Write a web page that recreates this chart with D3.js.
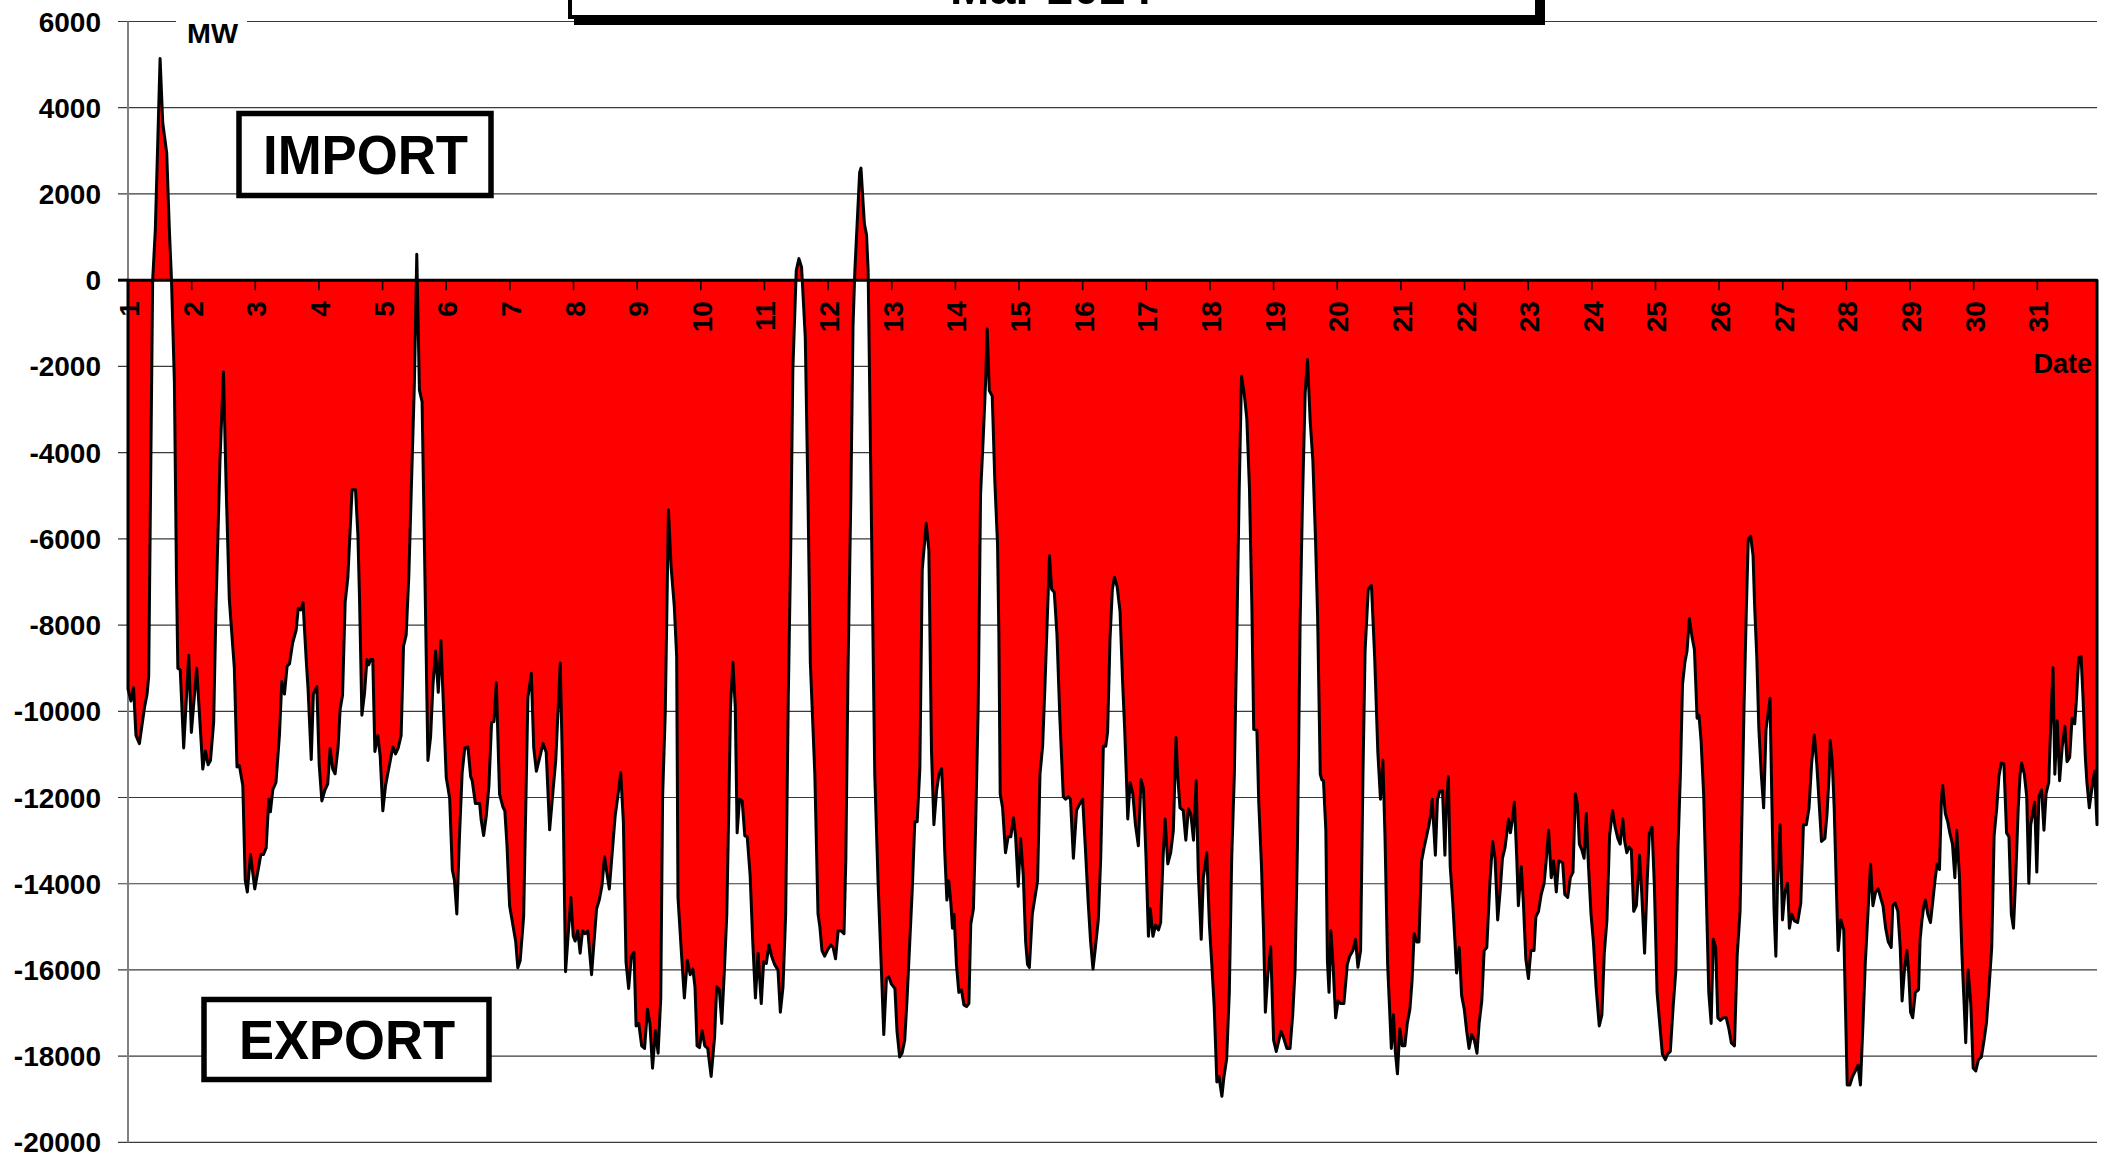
<!DOCTYPE html>
<html>
<head>
<meta charset="utf-8">
<script src="https://cdn.jsdelivr.net/npm/d3@7"></script>
<style>
  html, body { margin: 0; padding: 0; background: #fff; }
  svg { display: block; font-family: "Liberation Sans", Arial, sans-serif; font-weight: bold; }
</style>
</head>
<body>
<svg id="chart" width="2108" height="1160"></svg>
<script>
// Labels
const monthTitle = "Mar 2024";
const unitLabel = "MW";
const dateLabel = "Date";
const importLabel = "IMPORT";
const exportLabel = "EXPORT";

// Day numbers on the category axis and value ticks (MW)
const days = d3.range(1, 32);
const yTicks = d3.range(-20000, 6001, 2000);

// Net cross-border exchange, [hour from 1 Mar 00:00, MW]; positive = import, negative = export
const netExchange = [
  [0,-9480],[1.1,-9760],[2.1,-9450],[3,-10560],[4.3,-10750],[6.2,-9920],[7.2,-9600],[7.8,-9190],[9.3,0],[10.3,1170],[12.1,5140],[13.1,3650],[14.6,2950],[15.6,1170],[16.4,0],[17.5,-2380],[18.3,-7000],[18.8,-9000],[19.7,-9040],[21,-10850],[22.9,-8700],[23.9,-10490],
  [25.9,-9000],[28.2,-11340],[29.2,-10920],[30.2,-11240],[31.1,-11140],[32.3,-10260],[33.2,-7530],[34.7,-4150],[36,-2130],[37,-4770],[38.2,-7400],[40.1,-9000],[41.1,-11290],[42,-11260],[43.3,-11730],[44.2,-13920],[45,-14190],[46.2,-13320],[47.8,-14120],
  [50.1,-13320],[51.1,-13320],[52.1,-13170],[53.1,-12040],[53.7,-12330],[54.6,-11820],[55.8,-11650],[57.1,-10560],[58,-9310],[59,-9600],[60,-8950],[60.9,-8900],[62.1,-8410],[63.4,-8120],[64.2,-7610],[65.2,-7650],[66,-7480],[67.2,-8800],[67.9,-9480],[69.1,-11120],[69.9,-9600],[71.2,-9430],
  [72.1,-11240],[73.1,-12080],[74.3,-11820],[75.3,-11690],[76.2,-10870],[77.2,-11340],[78.1,-11450],[79.2,-10850],[80,-9950],[80.9,-9630],[81.9,-7460],[82.9,-6900],[84.5,-4860],[85.8,-4860],[86.7,-5920],[87.3,-7360],[88.2,-10090],[89.2,-9580],[90.1,-8800],[90.8,-8920],[91.4,-8800],[92.3,-8800],[93.1,-10930],[94.2,-10560],[95.1,-11040],
  [96.1,-12310],[97.1,-11730],[98,-11430],[98.6,-11240],[99.9,-10830],[100.9,-10990],[101.9,-10850],[103,-10560],[103.9,-8490],[104.9,-8230],[105.9,-6850],[108,-2380],[108.9,600],[109.9,-2550],[110.9,-2820],[113.1,-11140],[114.1,-10600],[115,-9390],[116,-8600],[117,-9560],[118,-8360],[118.7,-9480],
  [120,-11530],[121.3,-12020],[122.3,-13680],[123.1,-13920],[124,-14700],[125,-12900],[126,-11430],[127,-10850],[128.2,-10830],[129.2,-11510],[129.8,-11610],[131,-12140],[132.6,-12140],[133.2,-12530],[134.1,-12880],[135.1,-12430],[136.1,-11730],[137.1,-10260],[138,-10240],[138.9,-9340],[140.1,-11920],[141.4,-12220],[142.1,-12310],[142.9,-13090],
  [143.9,-14510],[146.2,-15340],[147,-15950],[147.9,-15780],[149.2,-14750],[150.8,-9680],[152.1,-9120],[153,-10850],[154,-11390],[155,-11140],[156.5,-10750],[157.7,-10950],[159,-12750],[160.3,-11820],[161.3,-11140],[163,-8880],[164,-11730],[165,-16040],
  [167,-14320],[167.9,-15220],[168.6,-15330],[169.6,-15090],[170.5,-15610],[171.4,-15090],[172.4,-15160],[173.4,-15090],[174.8,-16110],[176.7,-14580],[177.7,-14380],[178.7,-14060],[179.7,-13380],[181.5,-14120],[183.7,-12430],[184.7,-11980],[185.8,-11420],[186.8,-12560],[187.8,-15810],[188.8,-16430],[189.8,-15680],[190.8,-15590],
  [191.6,-17300],[192.6,-17240],[193.7,-17760],[194.8,-17820],[195.9,-16910],[196.8,-17240],[197.8,-18280],[198.9,-17410],[199.9,-17930],[200.9,-16650],[201.6,-11980],[202.6,-10030],[203.8,-5330],[204.8,-6650],[206,-7560],[206.9,-8730],[207.4,-14320],[208.7,-15610],[209.8,-16650],[210.9,-15770],[212,-16110],[213,-15980],[213.8,-16390],
  [214.6,-17760],[215.5,-17800],[216.5,-17410],[217.5,-17760],[218.6,-17820],[219.9,-18470],[221.2,-17560],[222,-16390],[223,-16460],[223.9,-17240],[224.9,-16000],[225.8,-14710],[226.6,-12110],[227.2,-9900],[228.1,-8860],[229,-9900],[229.7,-12820],[230.6,-12040],[231.6,-12080],[232.6,-12890],[233.5,-12910],[234.6,-13800],[235.6,-15350],[236.6,-16650],[237.6,-15610],
  [238.8,-16780],[239.7,-15810],[240.7,-15850],[241.7,-15420],[242.7,-15680],[243.8,-15870],[245.1,-16000],[246,-16980],[247,-16390],[248,-14710],[249,-9640],[249.9,-6260],[250.7,-2100],[252,230],[253,500],[254,300],[255.4,-1330],[256.4,-4960],[257.3,-8860],[259,-11460],[260.2,-14700],[260.9,-15000],
  [261.7,-15550],[262.7,-15680],[263.7,-15550],[265,-15420],[265.9,-15480],[266.8,-15740],[267.8,-15090],[268.8,-15090],[270,-15160],[270.7,-13410],[271.5,-9120],[272.6,-4960],[273.4,-1070],[274.1,230],[275.9,2500],[276.4,2600],[277.7,1300],[278.5,1050],[279.1,230],[281.6,-11460],[282.9,-14060],[284.1,-16000],[285,-17500],
  [286,-16200],[286.9,-16160],[287.9,-16330],[289.2,-16430],[290,-17430],[291,-18020],[291.9,-17930],[292.9,-17630],[293.8,-16650],[294.8,-15350],[295.7,-14190],[296.7,-12560],[297.6,-12560],[298.6,-11330],[299.5,-6720],[301,-5640],[302,-6260],[303,-10940],[303.9,-12630],[304.9,-11850],[305.8,-11460],[306.8,-11330],[307.4,-12110],[308,-13280],[308.8,-14380],[309.5,-13930],[310.3,-14450],[310.9,-15030],[311.5,-14710],
  [312.4,-15870],[313.3,-16520],[314.3,-16460],[315.2,-16810],[316.2,-16850],[317.1,-16780],[317.8,-14940],[318.8,-14580],[319.6,-12760],[320.6,-9900],[321.5,-4960],[322.5,-3660],[323.4,-2360],[324,-1130],[324.8,-2560],[325.9,-2690],[326.9,-4700],[327.9,-6130],[328.4,-8210],[328.9,-11910],[329.8,-12240],[330.9,-13280],[331.9,-12910],[332.9,-12910],[333.9,-12470],[334.7,-12890],[335.7,-14060],
  [336.6,-12950],[337.6,-13800],[338.5,-15350],[339.2,-15870],[339.9,-15940],[341,-14710],[342,-14320],[343,-13930],[343.9,-11460],[344.9,-10810],[345.8,-9380],[346.6,-7950],[347.5,-6390],[348.3,-7170],[349.3,-7240],[350.3,-8210],[351.4,-10160],[352.7,-11980],[353.6,-12040],[354.6,-11980],[355.4,-12040],[356.5,-13410],[357.7,-12300],[358.7,-12170],
  [360,-12040],[361,-13150],[362.1,-14450],[363,-15350],[363.9,-15980],[364.8,-15480],[365.9,-14840],[366.8,-13410],[367.8,-10810],[368.7,-10810],[369.4,-10480],[370.3,-8340],[371.2,-7170],[372,-6890],[373,-7110],[374.1,-7690],[375.1,-9380],[375.8,-10350],[376.6,-11720],[377,-12500],[377.9,-11650],[378.9,-11910],[379.9,-12630],[381,-13120],[382,-11590],[382.9,-11780],
  [383.9,-13410],[384.8,-15220],[385.5,-14580],[386.5,-15220],[387.5,-14960],[388.6,-15070],[389.4,-14900],[390.3,-13410],[391.1,-12500],[392.1,-13540],[393.2,-13280],[394.2,-12760],[395.2,-10610],[395.8,-11460],[396.7,-12240],[397.9,-12300],[398.9,-12990],[399.9,-12260],[400.8,-12390],[401.8,-12990],[402.8,-11610],[403.6,-13730],[404.7,-15290],[405.5,-13860],[406.8,-13280],[407.8,-14960],
  [408.7,-15870],[409.6,-16850],[410.6,-18600],[411.4,-18470],[412.5,-18930],[413.3,-18470],[414.3,-18060],[415.3,-16520],[416.2,-13410],[417.2,-11460],[418.1,-8340],[419,-4960],[419.9,-2230],[420.9,-2620],[421.9,-3210],[422.9,-4830],[423.8,-7560],[424.5,-10420],[425.7,-10440],[426.4,-12110],[427.4,-13540],[428.2,-15090],[428.9,-16980],[429.8,-16130],[430.9,-15460],
  [432,-17630],[433,-17890],[434,-17630],[434.8,-17430],[435.7,-17560],[437,-17820],[438.2,-17820],[439.2,-17040],[440.1,-16000],[441,-13080],[442,-7950],[442.9,-5090],[443.9,-2620],[444.8,-1840],[445.8,-3270],[446.8,-4180],[447.8,-6000],[448.6,-7820],[449.6,-11460],[450.2,-11590],[450.8,-11610],[451.7,-12760],[452.3,-15800],[452.9,-16520],[453.6,-15090],[454.4,-15870],[455.4,-17110],
  [456.3,-16720],[457.3,-16780],[458.5,-16780],[459.8,-15870],[460.7,-15680],[461.9,-15550],[462.9,-15290],[463.8,-15940],[464.8,-15550],[465.7,-11460],[466.5,-8600],[467.7,-7170],[468.9,-7080],[470.1,-8730],[471.3,-10940],[472.3,-12040],[473.2,-11130],[474,-12890],[475,-15870],[476.4,-17820],[477.2,-17040],[477.9,-17890],[478.7,-18410],[479.6,-17370],
  [480.5,-17760],[481.5,-17760],[482.4,-17240],[483.4,-16910],[484.2,-16260],[485,-15160],[486,-15350],[486.8,-15350],[487.8,-13470],[488.8,-13150],[489.7,-12890],[490.6,-12630],[491.3,-12370],[491.8,-12040],[493,-13340],[493.8,-12040],[494.7,-11850],[495.7,-11850],[496.6,-13340],[497.1,-12240],[497.9,-11520],[498.6,-13600],[499.5,-14380],[500.4,-15350],[501,-16070],[502,-15480],[502.9,-16590],
  [503.9,-16910],[504.8,-17410],[505.7,-17820],[506.7,-17500],[507.7,-17630],[508.7,-17930],[509.5,-17240],[510.5,-16720],[511.4,-15550],[512.4,-15480],[513.6,-13930],[514.6,-13020],[515.5,-13410],[516.5,-14840],[517.4,-14190],[518.3,-13410],[519.3,-13150],[520.6,-12500],[521.3,-12820],[522.1,-12500],[522.8,-12110],[523.7,-13410],[524.3,-14510],[525.4,-13600],[526.2,-14450],[527.1,-15740],
  [528.1,-16200],[529,-15550],[530.2,-15550],[530.9,-14770],[531.9,-14640],[532.9,-14250],[534,-13990],[534.7,-13540],[535.7,-12760],[536.7,-13860],[537.6,-13470],[538.6,-14190],[539.5,-13470],[541,-13510],[541.8,-14250],[542.9,-14320],[543.9,-13860],[544.9,-13730],[545.8,-11910],[546.6,-12170],[547.3,-13080],[548.2,-13210],[549.1,-13410],[549.9,-12370],[550.7,-13540],[551.7,-14710],
  [552.6,-15350],[553.6,-16390],[554.8,-17300],[555.8,-17040],[556.7,-15610],[557.7,-14840],[558.7,-12890],[559.8,-12300],[560.8,-12690],[561.8,-12950],[562.7,-13080],[563.7,-12500],[564.4,-13020],[565.2,-13280],[566.1,-13150],[566.9,-13210],[567.8,-14640],[568.8,-14510],[570,-13340],[570.8,-14190],[571.9,-15610],[572.8,-14060],[573.7,-12820],[574.7,-12690],[575.6,-14060],
  [576.6,-16520],[577.6,-17240],[578.6,-17950],[579.7,-18080],[580.6,-17950],[581.6,-17890],[582.6,-16910],[583.7,-16000],[584.5,-13150],[585.4,-11460],[586.2,-9380],[587.1,-8860],[587.9,-8600],[588.8,-7850],[589.8,-8280],[590.7,-8570],[591.7,-10160],[592.4,-10090],[593.2,-10680],[594.2,-11980],[595.2,-14320],[596.1,-16520],[597,-17240],[597.8,-15290],[598.7,-15480],[599.5,-17110],
  [600.5,-17170],[601.6,-17110],[602.7,-17110],[603.7,-17370],[604.6,-17690],[605.8,-17760],[606.8,-15680],[607.9,-14640],[608.7,-12110],[609.4,-9900],[610.3,-7560],[611,-6000],[611.9,-5940],[612.8,-6390],[613.4,-7560],[614.2,-8730],[615,-10420],[615.9,-11460],[616.8,-12240],[617.7,-10420],[618.5,-10030],[619.2,-9700],[619.9,-12110],[620.7,-14580],[621.4,-15680],[622,-14060],[623,-12630],
  [623.9,-14840],[624.8,-14190],[625.8,-13990],[626.5,-15030],[627.4,-14710],[628.4,-14860],[629.6,-14900],[630.8,-14450],[631.8,-12630],[632.9,-12630],[633.9,-12240],[634.9,-11200],[635.9,-10550],[636.8,-11200],[637.7,-12110],[638.6,-13020],[639.9,-12950],[640.7,-12370],[641.5,-11460],[641.9,-10680],[642.7,-11200],[643.4,-12240],[644.2,-14060],[644.9,-15550],[645.9,-14840],[647,-15070],
  [648.3,-18670],[649.3,-18670],[650.3,-18470],[651.4,-18340],[652.4,-18210],[653.3,-18670],[654.3,-17170],[655.1,-15870],[656.1,-14710],[657.1,-13540],[658,-14510],[659,-14190],[660,-14120],[660.9,-14320],[661.8,-14510],[662.8,-15030],[663.8,-15350],[664.9,-15480],[665.5,-14510],[666.4,-14450],[667.4,-14640],[668.3,-15480],[669,-16720],[669.9,-16000],[670.8,-15550],[671.5,-16070],
  [672.2,-16980],[673,-17110],[674,-16520],[675.2,-16460],[675.8,-15290],[676.5,-14840],[677.2,-14510],[677.8,-14380],[678.7,-14710],[679.7,-14900],[680.5,-14450],[681.4,-13930],[682.2,-13540],[683.1,-13670],[683.8,-12110],[684.3,-11720],[685.3,-12370],[686.2,-12560],[687,-12820],[688,-13080],[688.9,-13860],[689.6,-12760],[690.6,-13800],[691.6,-15680],[692.3,-16650],[693,-17690],[693.9,-16000],[694.9,-16780],
  [695.8,-18280],[696.8,-18340],[697.8,-18080],[698.9,-18020],[699.9,-17630],[700.8,-17240],[701.8,-16390],[702.8,-15480],[703.7,-12890],[704.7,-12240],[705.5,-11520],[706.4,-11200],[707.4,-11220],[708.4,-12820],[709.3,-12910],[710.2,-14710],[711,-15030],[711.8,-13930],[712.8,-12240],[713.5,-11460],[714.1,-11200],[715.1,-11460],[716,-11980],[716.8,-13990],[717.5,-12630],[718.1,-12430],[719,-12110],
  [719.8,-13730],[720.6,-11980],[721.6,-11820],[722.5,-12760],[723.3,-11910],[724.3,-11650],[725,-10420],[725.9,-8990],[726.6,-11460],[727.5,-10220],[728.4,-11610],[729.4,-10810],[730.4,-10350],[731.2,-11170],[732.2,-11070],[733.1,-10160],[734.1,-10290],[734.7,-9770],[735.6,-8760],[736.5,-8730],[737.2,-9640],[738.1,-11070],[738.7,-11650],[739.6,-12240],[740.6,-11780],[741.6,-11390],[742.5,-12630]
];

// Layout
const plot = { left: 128, right: 2097, top: 21.5, bottom: 1142.4 };
const hoursPerDay = 24;
const lastHour = netExchange[netExchange.length - 1][0];

const svg = d3.select("#chart");

const x = d3.scaleLinear().domain([0, lastHour]).range([plot.left, plot.right]);
const y = d3.scaleLinear().domain([yTicks[0], yTicks[yTicks.length - 1]]).range([plot.bottom, plot.top]);
const y0 = y(0);

// Horizontal gridlines with their tick marks
svg.append("g")
  .selectAll("line")
  .data(yTicks)
  .join("line")
  .attr("x1", plot.left - 10)
  .attr("x2", plot.right)
  .attr("y1", d => y(d))
  .attr("y2", d => y(d))
  .attr("stroke", "#3a3a3a")
  .attr("stroke-width", 1.2);

// Value axis line
svg.append("line")
  .attr("x1", plot.left).attr("x2", plot.left)
  .attr("y1", plot.top).attr("y2", plot.bottom)
  .attr("stroke", "#808080")
  .attr("stroke-width", 2);

// Net exchange area, filled down/up to zero
const area = d3.area()
  .x(d => x(d[0]))
  .y0(y0)
  .y1(d => y(d[1]));

svg.append("path")
  .datum(netExchange)
  .attr("d", area)
  .attr("fill", "#ff0000")
  .attr("stroke", "#000")
  .attr("stroke-width", 3)
  .attr("stroke-linejoin", "round");

// Zero-line tick at the value axis
svg.append("line")
  .attr("x1", plot.left - 10).attr("x2", plot.left)
  .attr("y1", y0).attr("y2", y0)
  .attr("stroke", "#000").attr("stroke-width", 3);

// Value labels
svg.append("g")
  .selectAll("text")
  .data(yTicks)
  .join("text")
  .attr("x", 101)
  .attr("y", d => y(d) + 10)
  .attr("text-anchor", "end")
  .attr("font-size", 28)
  .attr("fill", "#000")
  .text(d => d);

// Day ticks on the zero line
svg.append("g")
  .selectAll("line")
  .data(days)
  .join("line")
  .attr("x1", d => x((d - 1) * hoursPerDay))
  .attr("x2", d => x((d - 1) * hoursPerDay))
  .attr("y1", y0)
  .attr("y2", y0 + 10)
  .attr("stroke", "#000")
  .attr("stroke-width", 1.6);

// Day labels, rotated to read upward
svg.append("g")
  .selectAll("text")
  .data(days)
  .join("text")
  .attr("transform", d => `translate(${x((d - 1) * hoursPerDay) + 11},${y0 + 21}) rotate(-90)`)
  .attr("text-anchor", "end")
  .attr("font-size", 28)
  .attr("fill", "#000")
  .text(d => d);

// Axis captions
svg.append("rect")
  .attr("x", 176).attr("y", 14).attr("width", 71).attr("height", 16)
  .attr("fill", "#fff");
svg.append("text")
  .attr("x", 187).attr("y", 42.5)
  .attr("font-size", 28)
  .attr("textLength", 51).attr("lengthAdjust", "spacingAndGlyphs")
  .text(unitLabel);

svg.append("text")
  .attr("x", 2092).attr("y", 373)
  .attr("text-anchor", "end")
  .attr("font-size", 27)
  .text(dateLabel);

// Boxed annotations
function boxedLabel(bx, by, bw, bh, tx, ty, tw, label) {
  svg.append("rect")
    .attr("x", bx).attr("y", by).attr("width", bw).attr("height", bh)
    .attr("fill", "#fff").attr("stroke", "#000").attr("stroke-width", 5.5);
  svg.append("text")
    .attr("x", tx).attr("y", ty)
    .attr("text-anchor", "middle")
    .attr("font-size", 56)
    .attr("textLength", tw).attr("lengthAdjust", "spacingAndGlyphs")
    .text(label);
}
boxedLabel(239, 113.5, 252, 82, 365.5, 174, 205, importLabel);
boxedLabel(204, 999.5, 285, 80, 347, 1059, 216, exportLabel);

// Title panel with drop shadow
svg.append("rect")
  .attr("x", 574).attr("y", -60).attr("width", 971).attr("height", 85)
  .attr("fill", "#000");
svg.append("rect")
  .attr("x", 570).attr("y", -60).attr("width", 967).attr("height", 77)
  .attr("fill", "#fff").attr("stroke", "#000").attr("stroke-width", 4);
svg.append("text")
  .attr("x", 1051).attr("y", 4)
  .attr("text-anchor", "middle")
  .attr("font-size", 50)
  .attr("textLength", 202).attr("lengthAdjust", "spacingAndGlyphs")
  .text(monthTitle);
</script>
</body>
</html>
